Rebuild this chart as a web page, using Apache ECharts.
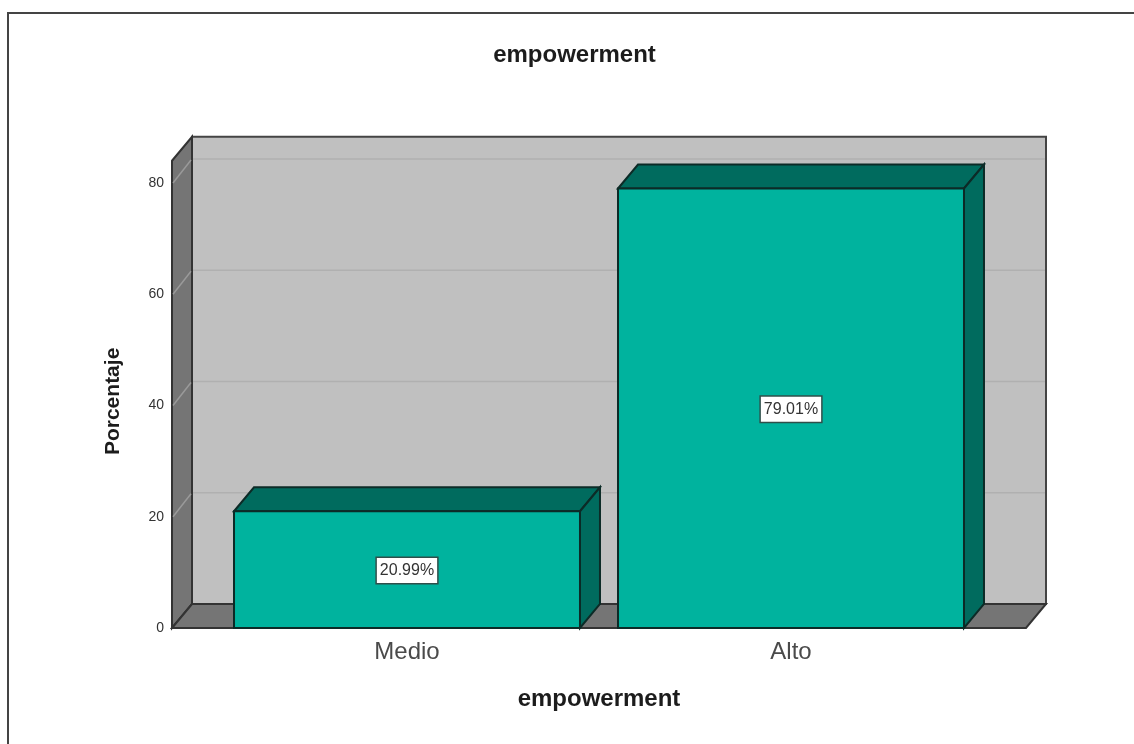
<!DOCTYPE html>
<html><head><meta charset="utf-8">
<style>html,body{margin:0;padding:0;background:#fff}#c{width:1134px;height:744px}</style>
<script src="https://cdn.jsdelivr.net/npm/echarts@6/dist/echarts.min.js"></script>
</head><body><div id="c"></div>
<script>
const categories = ['Medio', 'Alto'];
const percentages = [20.99, 79.01];
const percentLabels = ['20.99%', '79.01%'];
const gridTicks = [20, 40, 60, 80];
const yTickLabels = [0, 20, 40, 60, 80];
const titleText = 'empowerment';
const xName = 'empowerment';
const yName = 'Porcentaje';

const DX = 20, DY = -24, SIDE = 43;
const FONT = '"Liberation Sans", Arial, sans-serif';
const chart = echarts.init(document.getElementById('c'), null, {renderer: 'canvas'});

function renderWalls(params, api) {
  const cs = params.coordSys;
  const l = cs.x - SIDE, r = cs.x + cs.width + SIDE, b = cs.y + cs.height, t = cs.y;
  const edge = {stroke: '#333', lineWidth: 2};
  const children = [
    {type: 'polygon', shape: {points: [[l + DX, t + DY], [r + DX, t + DY], [r + DX, b + DY], [l + DX, b + DY]]},
      style: {fill: '#c0c0c0', stroke: '#444', lineWidth: 2}},
    {type: 'polygon', shape: {points: [[l, t], [l + DX, t + DY], [l + DX, b + DY], [l, b]]},
      style: Object.assign({fill: '#757575'}, edge)},
    {type: 'polygon', shape: {points: [[l, b], [l + DX, b + DY], [r + DX, b + DY], [r, b]]},
      style: Object.assign({fill: '#757575'}, edge)}
  ];
  gridTicks.forEach(v => {
    const y = api.coord([0, v])[1];
    children.push({type: 'polyline', shape: {points: [[l + 1, y], [l + DX - 1, y + DY + 1]]},
      style: {fill: null, stroke: '#9a9a9a', lineWidth: 1.5}});
    children.push({type: 'polyline', shape: {points: [[l + DX + 1, y + DY], [r + DX - 1, y + DY]]},
      style: {fill: null, stroke: '#b0b0b0', lineWidth: 1.5}});
  });
  return {type: 'group', children};
}

function renderBar(params, api) {
  const cat = api.value(0), val = api.value(1);
  const top = api.coord([cat, val]), base = api.coord([cat, 0]);
  const w = api.size([1, 0])[0] * 0.901;
  const x0 = top[0] - w / 2, x1 = top[0] + w / 2, yT = top[1], yB = base[1];
  const edge = {stroke: '#0c2b27', lineWidth: 2, lineJoin: 'miter'};
  return {type: 'group', children: [
    {type: 'polygon', shape: {points: [[x0, yT], [x0 + DX, yT + DY], [x1 + DX, yT + DY], [x1, yT]]},
      style: Object.assign({fill: '#006b5e'}, edge)},
    {type: 'polygon', shape: {points: [[x1, yT], [x1 + DX, yT + DY], [x1 + DX, yB + DY], [x1, yB]]},
      style: Object.assign({fill: '#006b5e'}, edge)},
    {type: 'rect', shape: {x: x0, y: yT, width: w, height: yB - yT},
      style: Object.assign({fill: '#00b39e'}, edge)},
    {type: 'text', x: top[0], y: (yT + yB) / 2 + 1,
      style: {text: percentLabels[params.dataIndex], align: 'center', verticalAlign: 'middle',
        font: '16px ' + FONT, fill: '#333', backgroundColor: '#fff',
        borderColor: '#2f4f4a', borderWidth: 1.5, padding: [5, 3, 4, 3]}}
  ]};
}

chart.setOption({
  animation: false,
  backgroundColor: '#fff',
  title: {text: titleText, left: 569.5, top: 38, textAlign: 'center',
    textStyle: {fontFamily: FONT, fontSize: 24, fontWeight: 'bold', color: '#1c1c1c'}},
  grid: {left: 215, right: 151, top: 160.75, bottom: 116},
  xAxis: {type: 'category', data: categories, name: xName, nameLocation: 'middle', nameGap: 59,
    nameTextStyle: {fontFamily: FONT, fontSize: 24, fontWeight: 'bold', color: '#1c1c1c'},
    axisLine: {show: false}, axisTick: {show: false}, splitLine: {show: false},
    axisLabel: {fontFamily: FONT, fontSize: 24, color: '#4a4a4a', margin: 12}},
  yAxis: {type: 'value', min: 0, max: 84, offset: 43, name: yName,
    nameLocation: 'middle', nameGap: 48, nameRotate: 90,
    nameTextStyle: {fontFamily: FONT, fontSize: 21, fontWeight: 'bold', color: '#1c1c1c', padding: [0, 14, 0, 0]},
    axisLine: {show: false}, axisTick: {show: false, customValues: yTickLabels}, splitLine: {show: false},
    axisLabel: {fontFamily: FONT, fontSize: 14, color: '#333', margin: 8, customValues: yTickLabels}},
  graphic: [{type: 'rect', shape: {x: 8, y: 13, width: 1140, height: 760},
    style: {fill: null, stroke: '#444', lineWidth: 2}, z: -1, silent: true}],
  series: [
    {type: 'custom', coordinateSystem: 'cartesian2d', renderItem: renderWalls, data: [[0, 0]], z: 1, silent: true},
    {type: 'custom', coordinateSystem: 'cartesian2d', renderItem: renderBar, z: 2, silent: true,
      encode: {x: 0, y: 1},
      data: categories.map((c, i) => [i, percentages[i]])}
  ]
});
</script></body></html>
